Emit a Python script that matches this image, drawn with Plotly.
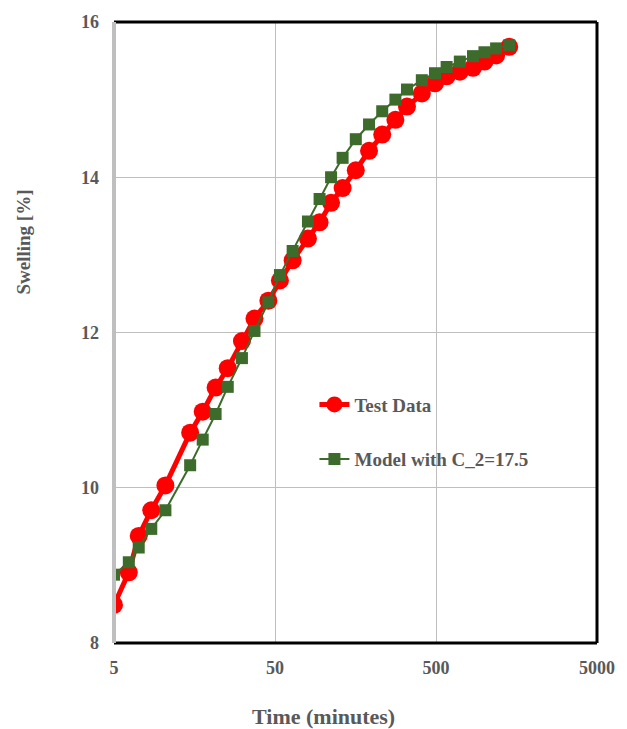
import plotly.graph_objects as go

time_min = [5.0, 6.18, 7.12, 8.52, 10.43, 14.86, 17.78, 21.38, 25.44, 31.16, 37.29, 45.47,
            53.65, 64.35, 80.1, 94.6, 111.5, 131.5, 158.8, 191.9, 231.7, 279.8, 330.2,
            408.3, 493, 582, 703, 849, 1000, 1181, 1425]
test_data = [8.49, 8.91, 9.38, 9.71, 10.03, 10.71, 10.98, 11.29, 11.54, 11.89, 12.18, 12.41,
             12.67, 12.93, 13.21, 13.42, 13.67, 13.86, 14.09, 14.34, 14.55, 14.74, 14.91,
             15.08, 15.21, 15.30, 15.36, 15.41, 15.49, 15.57, 15.68]
model = [8.88, 9.04, 9.23, 9.47, 9.71, 10.29, 10.62, 10.95, 11.30, 11.67, 12.02, 12.39,
         12.74, 13.05, 13.43, 13.72, 14.00, 14.25, 14.49, 14.68, 14.85, 15.00, 15.13,
         15.25, 15.34, 15.42, 15.49, 15.56, 15.61, 15.66, 15.70]
x_ticks = [5, 50, 500, 5000]
y_ticks = [8, 10, 12, 14, 16]

RED = "#FF0000"
GREEN = "#3C6B2B"
TXT = "#595959"
FONT = "Liberation Serif"

fig = go.Figure()
fig.add_trace(go.Scatter(
    x=time_min, y=test_data, name="<b>Test Data</b>", mode="lines+markers",
    line=dict(color=RED, width=5),
    marker=dict(symbol="circle", size=18, color=RED),
    legend="legend", showlegend=True,
))
fig.add_trace(go.Scatter(
    x=time_min, y=model, name="<b>Model with C_2=17.5</b>", mode="lines+markers",
    line=dict(color=GREEN, width=2),
    marker=dict(symbol="square", size=12, color=GREEN),
    legend="legend2", showlegend=True,
))

fig.update_layout(
    width=627, height=729,
    showlegend=True,
    margin=dict(l=114, r=27, t=18, b=86),
    paper_bgcolor="white", plot_bgcolor="white",
    font=dict(family=FONT, color=TXT),
    legend=dict(x=0.415, y=0.384, xanchor="left", yanchor="middle",
                bgcolor="rgba(0,0,0,0)", font=dict(size=19, color=TXT, family=FONT)),
    legend2=dict(x=0.415, y=0.296, xanchor="left", yanchor="middle",
                 bgcolor="rgba(0,0,0,0)", font=dict(size=19, color=TXT, family=FONT)),
    xaxis=dict(
        type="log", range=[0.69897, 3.69897],
        tickvals=x_ticks, ticktext=["<b>%d</b>" % v for v in x_ticks],
        tickfont=dict(size=18, color=TXT, family=FONT),
        showgrid=True, gridcolor="#BFBFBF", gridwidth=1,
        showline=False, zeroline=False, ticks="", ticklabelstandoff=12,
    ),
    yaxis=dict(
        range=[8, 16],
        tickvals=y_ticks, ticktext=["<b>%d</b>" % v for v in y_ticks],
        tickfont=dict(size=18, color=TXT, family=FONT),
        showgrid=True, gridcolor="#BFBFBF", gridwidth=1,
        showline=False, zeroline=False, ticks="", ticklabelstandoff=14,
    ),
    annotations=[
        dict(text="<b>Time (minutes)</b>", xref="paper", yref="paper",
             x=0.434, y=-0.1186, xanchor="center", yanchor="middle", showarrow=False,
             font=dict(size=22, color=TXT, family=FONT)),
        dict(text="<b>Swelling [%]</b>", xref="paper", yref="paper", textangle=-90,
             x=-0.187, y=0.646, xanchor="center", yanchor="middle", showarrow=False,
             font=dict(size=19, color=TXT, family=FONT)),
    ],
    shapes=[
        dict(type="line", xref="paper", yref="paper", x0=0, x1=1, y0=1, y1=1,
             line=dict(color="black", width=3)),
        dict(type="line", xref="paper", yref="paper", x0=1, x1=1, y0=0, y1=1,
             line=dict(color="black", width=3)),
        dict(type="line", xref="paper", yref="paper", x0=0, x1=1, y0=0, y1=0,
             line=dict(color="black", width=3)),
        dict(type="line", xref="paper", yref="paper", x0=0, x1=0, y0=0, y1=1,
             line=dict(color="#BFBFBF", width=4)),
    ],
)

fig.write_html("out.html")
